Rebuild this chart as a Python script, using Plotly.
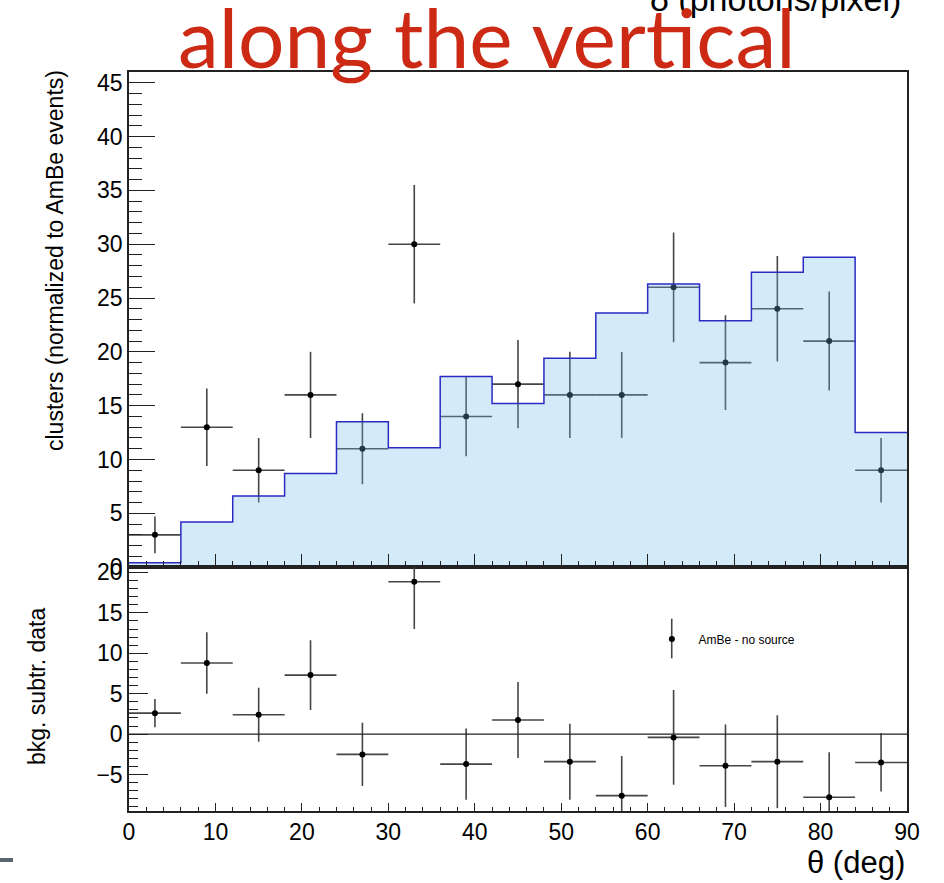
import plotly.graph_objects as go

# ---- data ----
bin_edges = [0, 6, 12, 18, 24, 30, 36, 42, 48, 54, 60, 66, 72, 78, 84, 90]
theta_centers = [3, 9, 15, 21, 27, 33, 39, 45, 51, 57, 63, 69, 75, 81, 87]
theta_halfwidth = [3] * 15
nosource_hist = [0.4, 4.2, 6.6, 8.7, 13.5, 11.1, 17.7, 15.2, 19.4, 23.6, 26.3, 22.9, 27.4, 28.8, 12.5]
ambe_counts = [3, 13, 9, 16, 11, 30, 14, 17, 16, 16, 26, 19, 24, 21, 9]
ambe_err = [1.7, 3.6, 3.0, 4.0, 3.3, 5.5, 3.7, 4.1, 4.0, 4.0, 5.1, 4.4, 4.9, 4.6, 3.0]
sub_vals = [2.6, 8.8, 2.4, 7.3, -2.5, 18.85, -3.7, 1.75, -3.4, -7.6, -0.4, -3.9, -3.4, -7.8, -3.5]
sub_err = [1.75, 3.8, 3.35, 4.3, 3.9, 5.85, 4.4, 4.7, 4.7, 4.9, 5.85, 5.1, 5.75, 5.55, 3.6]
upper_yticks = [0, 5, 10, 15, 20, 25, 30, 35, 40, 45]
lower_yticks = [-5, 0, 5, 10, 15, 20]
xticks = [0, 10, 20, 30, 40, 50, 60, 70, 80, 90]

FONT = "Liberation Sans, Arial, Helvetica, sans-serif"
ERRC = "#454545"
AX = "#222222"

fig = go.Figure()

# data points (upper)
fig.add_trace(go.Scatter(
    x=theta_centers, y=ambe_counts, mode="markers",
    marker=dict(color="black", size=6),
    error_y=dict(type="data", array=ambe_err, color=ERRC, thickness=1.6, width=0),
    error_x=dict(type="data", array=theta_halfwidth, color=ERRC, thickness=1.6, width=0),
    xaxis="x", yaxis="y", showlegend=False, cliponaxis=True))

# histogram (drawn on top, translucent)
step_x = bin_edges
step_y = nosource_hist + [nosource_hist[-1]]
fig.add_trace(go.Scatter(
    x=step_x, y=step_y, mode="lines", line=dict(shape="hv", color="#2b2bc4", width=1.5),
    fill="tozeroy", fillcolor="rgba(108,185,235,0.30)",
    xaxis="x", yaxis="y", showlegend=False))

# lower panel
fig.add_trace(go.Scatter(
    x=theta_centers, y=sub_vals, mode="markers", name="AmBe - no source",
    marker=dict(color="black", size=6),
    error_y=dict(type="data", array=sub_err, color=ERRC, thickness=1.6, width=0),
    error_x=dict(type="data", array=theta_halfwidth, color=ERRC, thickness=1.6, width=0),
    xaxis="x2", yaxis="y2", showlegend=True, cliponaxis=True))

LOW_TOP = 0.33

tickfont = dict(family=FONT, size=23, color="black")

fig.update_layout(
    width=944, height=883,
    margin=dict(l=129, r=37, t=72, b=72),
    paper_bgcolor="white", plot_bgcolor="white",
    font=dict(family=FONT, color="black"),
    xaxis=dict(domain=[0, 1], anchor="y", range=[0, 90], matches="x2",
               showticklabels=False, ticks="inside", ticklen=13, tickwidth=1.2, tickcolor=AX,
               tickvals=xticks, showgrid=False, zeroline=False,
               minor=dict(ticks="inside", ticklen=6, dtick=2, tickcolor=AX, tickwidth=1.2, showgrid=False),
               showline=True, linecolor=AX, linewidth=1.5, mirror=True),
    yaxis=dict(domain=[LOW_TOP, 1], anchor="x", range=[0, 46],
               ticks="inside", ticklen=26, tickwidth=1.2, tickcolor=AX,
               tickvals=upper_yticks, tickfont=tickfont, showgrid=False, zeroline=False,
               minor=dict(ticks="inside", ticklen=13, dtick=1, tickcolor=AX, tickwidth=1.2, showgrid=False),
               showline=True, linecolor=AX, linewidth=1.5, mirror=True),
    xaxis2=dict(domain=[0, 1], anchor="y2", range=[0, 90],
                ticks="inside", ticklen=8, tickwidth=1.2, tickcolor=AX,
                tickvals=xticks, tickfont=tickfont, showgrid=False, zeroline=False,
                minor=dict(ticks="inside", ticklen=4, dtick=2, tickcolor=AX, tickwidth=1.2, showgrid=False),
                showline=True, linecolor=AX, linewidth=1.5, mirror=True),
    yaxis2=dict(domain=[0, LOW_TOP], anchor="x2", range=[-9.5, 20.65],
                ticks="inside", ticklen=19, tickwidth=1.2, tickcolor=AX,
                tickvals=lower_yticks, tickfont=tickfont, showgrid=False, zeroline=False,
                minor=dict(ticks="inside", ticklen=9, dtick=1, tickcolor=AX, tickwidth=1.2, showgrid=False),
                showline=True, linecolor=AX, linewidth=1.5, mirror=True),
    legend=dict(x=(645.4 - 129) / 778, y=0.2327, xanchor="left", yanchor="middle",
                itemwidth=43,
                bgcolor="rgba(0,0,0,0)", font=dict(family=FONT, size=12, color="black")),
    showlegend=True,
)

# zero line in lower panel
fig.add_shape(type="line", xref="x2", yref="y2", x0=0, x1=90, y0=0, y1=0,
              line=dict(color=AX, width=1.3))

# legend key vertical error bar
fig.add_shape(type="line", xref="paper", yref="paper", x0=0.6976, x1=0.6976,
              y0=0.2066, y1=0.2602, line=dict(color=ERRC, width=1.6))

# gray dash bottom-left (slide decoration)
fig.add_shape(type="rect", xref="paper", yref="paper", x0=-0.1658, x1=-0.1491,
              y0=-0.069, y1=-0.0636, line=dict(width=0), fillcolor="#5b6770")

# axis titles
fig.add_annotation(text="clusters (normalized to AmBe events)", xref="paper", yref="paper",
                   x=(55 - 129) / 778, y=(811 - 261) / 739, textangle=-90, showarrow=False,
                   xanchor="center", yanchor="middle", font=dict(family=FONT, size=23, color="black"))
fig.add_annotation(text="bkg. subtr. data", xref="paper", yref="paper",
                   x=(37 - 129) / 778, y=(811 - 687) / 739, textangle=-90, showarrow=False,
                   xanchor="center", yanchor="middle", font=dict(family=FONT, size=23, color="black"))
fig.add_annotation(text="θ (deg)", xref="paper", yref="paper",
                   x=1.0, y=(811 - 862) / 739, showarrow=False,
                   xanchor="right", yanchor="middle", font=dict(family=FONT, size=31, color="black"))

# top texts
fig.add_annotation(text="δ (photons/pixel)", xref="paper", yref="paper",
                   x=(648 - 129) / 778, y=(811 - 20) / 739, showarrow=False,
                   xanchor="left", yanchor="bottom", font=dict(family=FONT, size=34, color="black"))
fig.add_annotation(text="along the vertical", xref="paper", yref="paper",
                   x=(487 - 129) / 778, y=(811 - 36) / 739, showarrow=False,
                   xanchor="center", yanchor="middle", font=dict(family="Lato, sans-serif", size=82, color="#cc2a14"))

fig.write_html("out.html")
